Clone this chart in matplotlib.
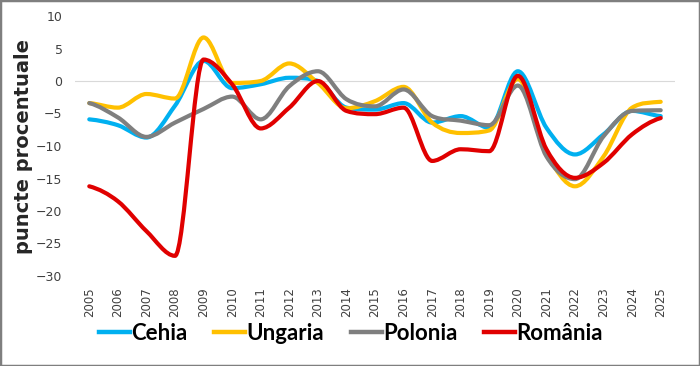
import numpy as np
import matplotlib.pyplot as plt
from matplotlib.path import Path
from matplotlib.patches import PathPatch, Rectangle
from matplotlib.lines import Line2D

# ani si valori (puncte procentuale)
ani = [str(a) for a in range(2005, 2026)]
cehia = [-5.9, -6.8, -8.7, -3.8, 3.1, -1.1, -0.5, 0.5, 0.0, -4.1, -4.4,
         -3.4, -6.4, -5.4, -7.2, 1.5, -7.2, -11.3, -8.2, -4.6, -5.4]
ungaria = [-3.4, -4.1, -2.0, -2.7, 6.7, -0.3, 0.0, 2.7, -0.3, -4.2, -3.1,
           -0.9, -6.4, -8.0, -7.6, 0.3, -11.0, -16.2, -11.6, -4.1, -3.2]
polonia = [-3.4, -5.6, -8.6, -6.4, -4.3, -2.4, -5.9, -0.8, 1.5, -2.8, -3.9,
           -1.3, -5.4, -6.1, -6.8, -0.7, -11.6, -15.1, -8.5, -4.6, -4.5]
romania = [-16.2, -18.5, -23.1, -26.9, 3.3, -0.5, -7.3, -4.1, 0.0, -4.6, -5.1,
           -4.1, -12.3, -10.5, -10.8, 0.8, -10.5, -14.9, -12.6, -8.2, -5.7]

serii = [('Cehia', cehia, '#00B0F0'),
         ('Ungaria', ungaria, '#FFC000'),
         ('Polonia', polonia, '#7F7F7F'),
         ('România', romania, '#E00000')]


def curba(x, y):
    # linie netezita (Bezier prin puncte, fara depasiri la extreme)
    x = np.asarray(x, float)
    y = np.asarray(y, float)
    n = len(y)
    d = np.diff(y)
    m = np.zeros(n)
    m[0], m[-1] = d[0] / 2, d[-1] / 2
    for i in range(1, n - 1):
        if d[i - 1] * d[i] <= 0:
            m[i] = 0.0
        else:
            s = (d[i - 1] + d[i]) / 2
            lim = 3 * min(abs(d[i - 1]), abs(d[i]))
            m[i] = np.sign(s) * min(abs(s), lim)
    verts = [(x[0], y[0])]
    codes = [Path.MOVETO]
    for i in range(n - 1):
        h = x[i + 1] - x[i]
        verts += [(x[i] + h / 3, y[i] + m[i] * h / 3),
                  (x[i + 1] - h / 3, y[i + 1] - m[i + 1] * h / 3),
                  (x[i + 1], y[i + 1])]
        codes += [Path.CURVE4] * 3
    return Path(verts, codes)


fig = plt.figure(figsize=(7, 3.66), dpi=100)
ax = fig.add_axes([75 / 700, 1 - 276 / 366, 600 / 700, 260 / 366])

x = np.arange(len(ani))
for nume, val, cul in serii:
    ax.add_patch(PathPatch(curba(x, val), facecolor='none', edgecolor=cul,
                           lw=3, capstyle='round', joinstyle='round', zorder=3))

ax.axhline(0, color='#D9D9D9', lw=0.8, zorder=1)
ax.set_xlim(-0.5, len(ani) - 0.5)
ax.set_ylim(-30, 10)
ax.set_yticks(range(-30, 11, 5))
ax.set_xticks(x)
ax.set_xticklabels(ani, rotation=90)
ax.tick_params(length=0, labelsize=9, colors='#404040')
ax.tick_params(axis='x', pad=8, labelsize=8.5)
ax.tick_params(axis='y', pad=9)
for s in ax.spines.values():
    s.set_visible(False)

ax.set_ylabel('puncte procentuale', fontsize=14, fontweight='bold',
              color='#262626')
ax.yaxis.set_label_coords(-0.07, 0.5)

handles = [Line2D([], [], color=c, lw=3.2) for _, _, c in serii]
fig.legend(handles, [n for n, _, _ in serii], loc='center',
           bbox_to_anchor=(351 / 700, 1 - 333 / 366), ncol=4, frameon=False,
           prop={'family': 'Lato', 'weight': 'bold', 'size': 16},
           handlelength=1.4, handletextpad=0.05, columnspacing=1.2)

fig.patches.append(Rectangle((0, 0), 1, 1, transform=fig.transFigure,
                             fill=False, edgecolor='#7F7F7F', lw=2.5))

plt.savefig('out.png', dpi=100)
